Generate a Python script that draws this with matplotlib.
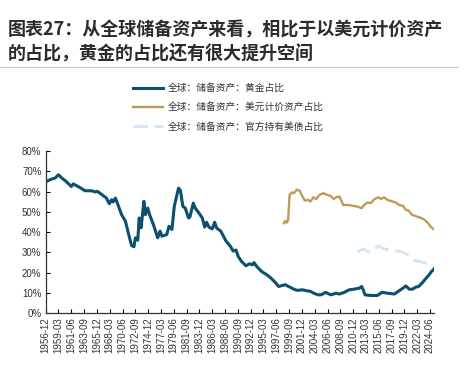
import pandas as pd
import matplotlib.pyplot as plt
import matplotlib.ticker as mticker
from matplotlib.lines import Line2D

plt.rcParams['font.family'] = ['Liberation Sans', 'DejaVu Sans']
CJK = ['Noto Sans CJK SC', 'DejaVu Sans']

# 全球：储备资产：黄金占比 (%)
gold_dates = [
    '1956-12', '1957-06', '1958-01', '1958-08', '1959-03', '1959-10', '1960-07', '1961-06',
    '1961-10', '1962-12', '1963-11', '1965-01', '1965-08', '1966-01', '1966-11', '1967-08',
    '1968-02', '1968-07', '1968-10', '1969-03', '1969-07', '1970-04', '1970-12', '1971-07',
    '1972-01', '1972-06', '1972-09', '1973-02', '1973-05', '1973-09', '1974-03', '1974-06',
    '1974-11', '1975-03', '1975-11', '1976-08', '1977-01', '1977-05', '1978-03', '1978-08',
    '1979-02', '1979-07', '1979-11', '1980-04', '1980-08', '1981-01', '1981-06', '1982-01',
    '1982-04', '1982-11', '1983-03', '1983-11', '1984-06', '1984-11', '1985-03', '1985-08',
    '1986-03', '1986-08', '1986-12', '1987-09', '1988-08', '1989-05', '1989-11', '1990-05',
    '1990-10', '1991-05', '1992-02', '1992-09', '1993-04', '1993-07', '1994-01', '1994-11',
    '1995-10', '1996-07', '1997-05', '1997-11', '1998-06', '1999-01', '1999-08', '2000-07',
    '2001-02', '2002-01', '2002-10', '2003-06', '2004-01', '2004-10', '2005-04', '2006-02',
    '2007-01', '2007-12', '2008-07', '2009-05', '2010-04', '2011-02', '2012-01', '2012-06',
    '2012-09', '2013-01', '2014-01', '2015-03', '2015-10', '2016-01', '2016-12', '2018-03',
    '2019-02', '2019-09', '2020-03', '2020-10', '2021-05', '2021-12', '2022-06', '2023-01',
    '2023-08', '2024-04', '2024-09', '2025-03']
gold_share = [
    64.7, 65.5, 66.2, 66.7, 68.3, 66.7, 65.0, 62.5,
    63.8, 62.0, 60.4, 60.4, 59.8, 60.1, 58.4, 56.8,
    54.0, 56.0, 54.9, 56.8, 54.3, 48.6, 45.4, 38.8,
    33.4, 32.8, 37.2, 36.0, 47.0, 42.1, 55.2, 48.6,
    51.9, 48.6, 43.7, 37.2, 40.5, 38.0, 38.8, 42.9,
    41.3, 52.7, 56.8, 61.7, 60.5, 52.7, 51.9, 47.0,
    47.5, 54.3, 51.9, 49.4, 47.0, 42.5, 44.9, 42.5,
    41.6, 44.9, 42.1, 40.5, 35.6, 33.1, 30.7, 31.2,
    27.9, 25.5, 23.4, 24.4, 23.9, 25.0, 23.0, 20.6,
    19.0, 17.3, 14.9, 13.2, 13.7, 14.1, 13.2, 11.9,
    11.3, 11.6, 11.1, 10.8, 9.9, 9.1, 9.1, 10.3,
    9.1, 9.9, 9.5, 10.3, 11.6, 11.9, 12.4, 13.2,
    11.6, 9.1, 8.8, 8.8, 9.9, 10.4, 9.9, 9.5,
    11.3, 12.4, 13.5, 11.9, 11.9, 12.9, 13.2, 14.9,
    16.8, 19.0, 20.6, 21.9]

# 全球：储备资产：美元计价资产占比 (%)
usd_dates = [
    '1998-10', '1999-01', '1999-04', '1999-07', '1999-10', '2000-03', '2000-07', '2001-01',
    '2001-07', '2002-01', '2002-06', '2003-01', '2003-06', '2003-12', '2004-06', '2005-01',
    '2005-09', '2006-05', '2006-12', '2007-07', '2007-12', '2008-07', '2008-12', '2009-03',
    '2010-03', '2011-01', '2011-09', '2012-06', '2012-11', '2013-06', '2014-01', '2014-09',
    '2015-05', '2015-11', '2016-05', '2016-12', '2017-07', '2018-06', '2019-01', '2019-09',
    '2020-03', '2020-09', '2021-04', '2021-11', '2022-06', '2022-12', '2023-07', '2024-02',
    '2024-08', '2025-03']
usd_share = [
    44.4, 45.6, 44.7, 46.0, 58.4, 59.6, 59.2, 60.9,
    60.5, 57.6, 55.6, 55.9, 55.1, 57.2, 56.3, 58.4,
    59.2, 58.4, 57.9, 56.3, 57.2, 57.6, 55.1, 53.4,
    53.4, 52.9, 52.6, 51.8, 53.4, 54.6, 54.3, 56.3,
    57.2, 56.3, 57.2, 55.9, 55.4, 54.6, 53.4, 52.9,
    51.0, 50.6, 48.5, 48.0, 47.4, 46.9, 46.0, 44.4,
    42.5, 41.2]

# 全球：储备资产：官方持有美债占比 (%)
ust_dates = [
    '2011-09', '2012-04', '2012-11', '2013-06', '2014-01', '2015-06', '2016-01', '2016-09',
    '2017-04', '2017-11', '2019-06', '2020-01', '2020-08', '2021-01', '2021-05', '2022-09',
    '2023-04', '2024-01', '2024-08', '2025-03']
ust_share = [
    29.9, 31.3, 31.6, 30.4, 30.4, 33.2, 32.1, 31.6,
    31.3, 30.9, 30.4, 29.6, 28.8, 27.1, 26.3, 25.5,
    25.0, 24.4, 23.4, 22.2]

labels = ['全球：储备资产：黄金占比',
          '全球：储备资产：美元计价资产占比',
          '全球：储备资产：官方持有美债占比']
title_lines = ['图表27：从全球储备资产来看，相比于以美元计价资产',
               '的占比，黄金的占比还有很大提升空间']


def to_dt(d):
    return pd.to_datetime(d, format='%Y-%m')


fig = plt.figure(figsize=(4.67, 3.67), dpi=100)
ax = fig.add_axes([45.7 / 467, 1 - 313.3 / 367, (434.3 - 45.7) / 467, (313.3 - 151) / 367])

ax.plot(to_dt(gold_dates), [v / 100 for v in gold_share], color='#0d4f70', lw=2.2,
        label=labels[0], zorder=3)
ax.plot(to_dt(usd_dates), [v / 100 for v in usd_share], color='#c09b58', lw=1.7,
        label=labels[1], zorder=2)
ax.plot(to_dt(ust_dates), [v / 100 for v in ust_share], color='#d3e5f4', lw=2.0,
        dashes=(5.2, 2.4), label=labels[2], zorder=1)

ticks = pd.date_range('1956-12-01', periods=31, freq='27MS')
ax.set_xticks(ticks)
ax.set_xticklabels([t.strftime('%Y-%m') for t in ticks], rotation=90, fontsize=7, color='#333333')
ax.set_xlim(to_dt('1956-12'), to_dt('2025-03'))
ax.set_ylim(0, 0.8)
ax.set_yticks([i / 10 for i in range(9)])
ax.yaxis.set_major_formatter(mticker.PercentFormatter(1.0, decimals=0))
ax.tick_params(axis='y', direction='in', length=3, labelsize=7, labelcolor='#333333', pad=3)
ax.tick_params(axis='x', direction='in', length=3, pad=3)
for s in ['top', 'right']:
    ax.spines[s].set_visible(False)
for s in ['left', 'bottom']:
    ax.spines[s].set_color('#333333')
    ax.spines[s].set_linewidth(0.9)

leg = fig.legend(loc='upper left', bbox_to_anchor=(133 / 467, 1 - 83 / 367), frameon=False,
                 prop={'family': CJK, 'size': 7}, handlelength=3.1, handletextpad=0.5,
                 labelspacing=0.95, borderpad=0, borderaxespad=0)
for t in leg.get_texts():
    t.set_color('#333333')

fig.text(8 / 467, 1 - 35 / 367, title_lines[0], family=CJK, fontsize=13, fontweight='bold',
         color='#2b2b2b', va='baseline')
fig.text(8 / 467, 1 - 58 / 367, title_lines[1], family=CJK, fontsize=13, fontweight='bold',
         color='#2b2b2b', va='baseline')
fig.add_artist(Line2D([0, 458 / 467], [1 - 66.5 / 367, 1 - 66.5 / 367], color='#b9cfdd', lw=0.8))

fig.savefig('out.png', dpi=100)
